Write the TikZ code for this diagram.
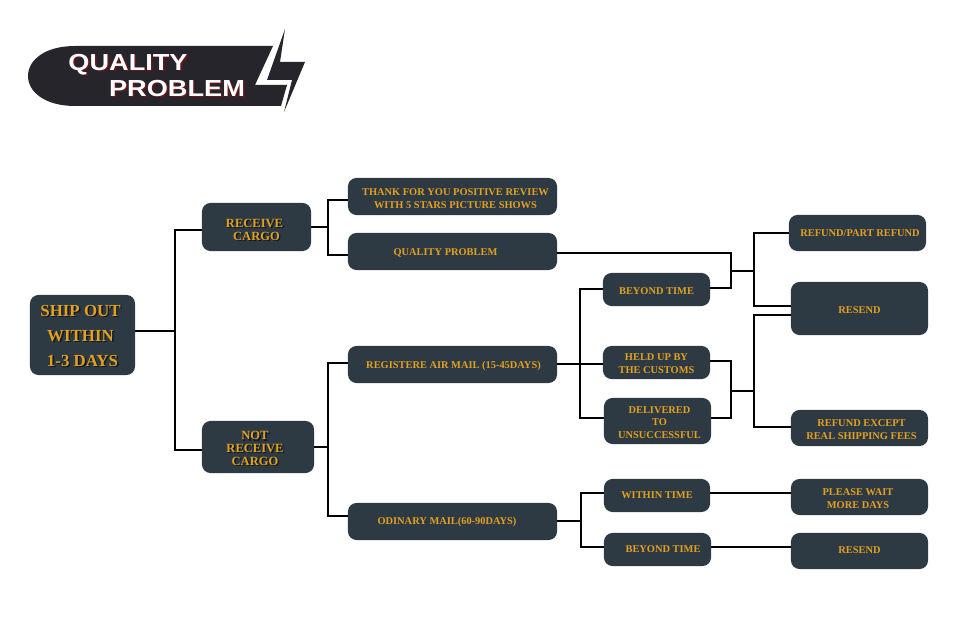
\documentclass[tikz,border=0pt]{standalone}
\usepackage{fontspec}
\setmainfont{Liberation Serif}
\newfontfamily\titlefont{Liberation Sans}
\definecolor{boxfill}{HTML}{2D3A44}
\definecolor{boxtext}{HTML}{E3A020}
\definecolor{badgefill}{HTML}{26252C}
\definecolor{titleshade}{HTML}{6E1416}
\definecolor{textshade}{HTML}{10161B}
\newcommand{\shadowline}[2]{\leavevmode\rlap{\kern1pt\raisebox{-1pt}{\textcolor{#1}{#2}}}#2}
\newcommand{\firstline}[1]{\rule{0pt}{#1}}
\tikzset{
  wire/.style={line width=0.95pt},
  flowbox/.style={fill=boxfill,text=boxtext,rounded corners=6pt,inner sep=0pt,align=center,font=\bfseries\fontsize{7.4}{9.1}\selectfont},
  bigbox/.style={flowbox,font=\bfseries\fontsize{12}{17.8}\selectfont},
  midbox/.style={flowbox,font=\bfseries\fontsize{8.9}{9.1}\selectfont},
  titletext/.style={text=white,inner sep=0pt,font=\titlefont\bfseries\fontsize{16.5}{18}\selectfont,xscale=1.17}
}
\begin{document}
\begin{tikzpicture}[x=0.025cm,y=-0.025cm]
\useasboundingbox (0,0) rectangle (960,642);
% title badge
\fill[badgefill] (273,46) -- (75,46) .. controls (45,46) and (28,60) .. (28,76) .. controls (28,92) and (45,106) .. (75,106) -- (281,106) -- (287,85) -- (255,85) -- cycle;
\fill[badgefill] (285,29) -- (280,62) -- (305,62) -- (284,112) -- (292,80) -- (267,80) -- cycle;
\node[titletext] (titleA) at (128,65) {\shadowline{titleshade}{QUALITY}};
\node[titletext] (titleB) at (177,89) {\shadowline{titleshade}{PROBLEM}};
% first column
\node[bigbox,minimum width=2.625cm,minimum height=2cm] (ship) at (82.5,335) {\firstline{10.2pt}\hspace*{-0.1cm}\shadowline{textshade}{SHIP OUT}\\\hspace*{-0.1cm}\shadowline{textshade}{WITHIN}\\\shadowline{textshade}{1-3 DAYS}};
\node[midbox,minimum width=2.725cm,minimum height=1.2cm] (recv) at (256.5,227) {\firstline{10.5pt}\hspace*{-0.1cm}\shadowline{textshade}{RECEIVE}\\\shadowline{textshade}{CARGO}};
\node[midbox,minimum width=2.8cm,minimum height=1.3cm] (norecv) at (258,447) {\firstline{9pt}\hspace*{-0.15cm}\shadowline{textshade}{NOT}\\\hspace*{-0.15cm}\shadowline{textshade}{RECEIVE}\\\hspace*{-0.15cm}\shadowline{textshade}{CARGO}};
% second column
\node[flowbox,minimum width=5.225cm,minimum height=0.925cm] (thank) at (452.5,196.5) {\firstline{8.5pt}\hspace*{0.15cm}THANK FOR YOU POSITIVE REVIEW\\\hspace*{0.15cm}WITH 5 STARS PICTURE SHOWS};
\node[flowbox,minimum width=5.225cm,minimum height=0.925cm] (quality) at (452.5,251.5) {\firstline{7.5pt}\hspace*{-0.35cm}QUALITY PROBLEM};
\node[flowbox,minimum width=5.225cm,minimum height=0.925cm] (airmail) at (452.5,364.5) {\firstline{7.5pt}\hspace*{0.05cm}REGISTERE AIR MAIL (15-45DAYS)};
\node[flowbox,minimum width=5.225cm,minimum height=0.925cm] (ordmail) at (452.5,521.5) {\hspace*{-0.275cm}ODINARY MAIL(60-90DAYS)};
% third column
\node[flowbox,minimum width=2.675cm,minimum height=0.825cm] (late) at (656.5,289.5) {\firstline{7pt}BEYOND TIME};
\node[flowbox,minimum width=2.675cm,minimum height=0.825cm] (held) at (656.5,362.5) {\firstline{7pt}HELD UP BY\\THE CUSTOMS};
\node[flowbox,minimum width=2.675cm,minimum height=1.15cm] (failed) at (657.5,421) {\firstline{7pt}\hspace*{0.1cm}DELIVERED\\\hspace*{0.1cm}TO\\\hspace*{0.1cm}UNSUCCESSFUL};
\node[flowbox,minimum width=2.65cm,minimum height=0.825cm] (intime) at (657,495.5) {WITHIN TIME};
\node[flowbox,minimum width=2.675cm,minimum height=0.825cm] (lateb) at (657.5,549.5) {\hspace*{0.275cm}BEYOND TIME};
% last column
\node[flowbox,minimum width=3.425cm,minimum height=0.9cm] (refund) at (857.5,233) {\hspace*{0.125cm}REFUND/PART REFUND};
\node[flowbox,minimum width=3.425cm,minimum height=1.325cm] (resend) at (859.5,308.5) {\firstline{7.5pt}RESEND};
\node[flowbox,minimum width=3.425cm,minimum height=0.9cm] (refexc) at (859.5,428) {\firstline{7.5pt}\hspace*{0.1cm}REFUND EXCEPT\\\hspace*{0.1cm}REAL SHIPPING FEES};
\node[flowbox,minimum width=3.425cm,minimum height=0.9cm] (wait) at (859.5,497) {\firstline{7pt}\hspace*{-0.075cm}PLEASE WAIT\\\hspace*{-0.075cm}MORE DAYS};
\node[flowbox,minimum width=3.425cm,minimum height=0.9cm] (resendb) at (859.5,551) {\raisebox{1.2pt}{RESEND}};
% bus points
\coordinate (busA) at (175,331);
\coordinate (busB) at (328,227);
\coordinate (busC) at (328,447);
\coordinate (busD) at (580,364);
\coordinate (busE) at (581,521);
\coordinate (busF) at (731,271);
\coordinate (busG) at (754,271);
\coordinate (busH) at (731,391);
\coordinate (busI) at (754,391);
% wires
\draw[wire] (ship.east |- busA) -- (busA);
\draw[wire] (recv.west |- 175,230) -- (175,230) -- (175,450) -- (norecv.west |- 175,450);
\draw[wire] (recv.east) -- (busB);
\draw[wire] (thank.west |- 328,200) -- (328,200) -- (328,255) -- (quality.west |- 328,255);
\draw[wire] (norecv.east) -- (busC);
\draw[wire] (airmail.west |- 328,363) -- (328,363) -- (328,516) -- (ordmail.west |- 328,516);
\draw[wire] (airmail.east |- busD) -- (held.west |- busD);
\draw[wire] (late.west |- 580,289) -- (580,289) -- (580,418) -- (failed.west |- 580,418);
\draw[wire] (ordmail.east |- busE) -- (busE);
\draw[wire] (intime.west |- 581,493) -- (581,493) -- (581,547) -- (lateb.west |- 581,547);
\draw[wire] (quality.east |- 731,253) -- (731,253) -- (731,288) -- (late.east |- 731,288);
\draw[wire] (busF) -- (busG);
\draw[wire] (refund.west |- 754,233) -- (754,233) -- (754,306) -- (resend.west |- 754,306);
\draw[wire] (held.east |- 731,361) -- (731,361) -- (731,418) -- (failed.east |- 731,418);
\draw[wire] (busH) -- (busI);
\draw[wire] (resend.west |- 754,315) -- (754,315) -- (754,427) -- (refexc.west |- 754,427);
\draw[wire] (intime.east |- 710,493) -- (wait.west |- 710,493);
\draw[wire] (lateb.east |- 711,547) -- (resendb.west |- 711,547);
\end{tikzpicture}
\end{document}
